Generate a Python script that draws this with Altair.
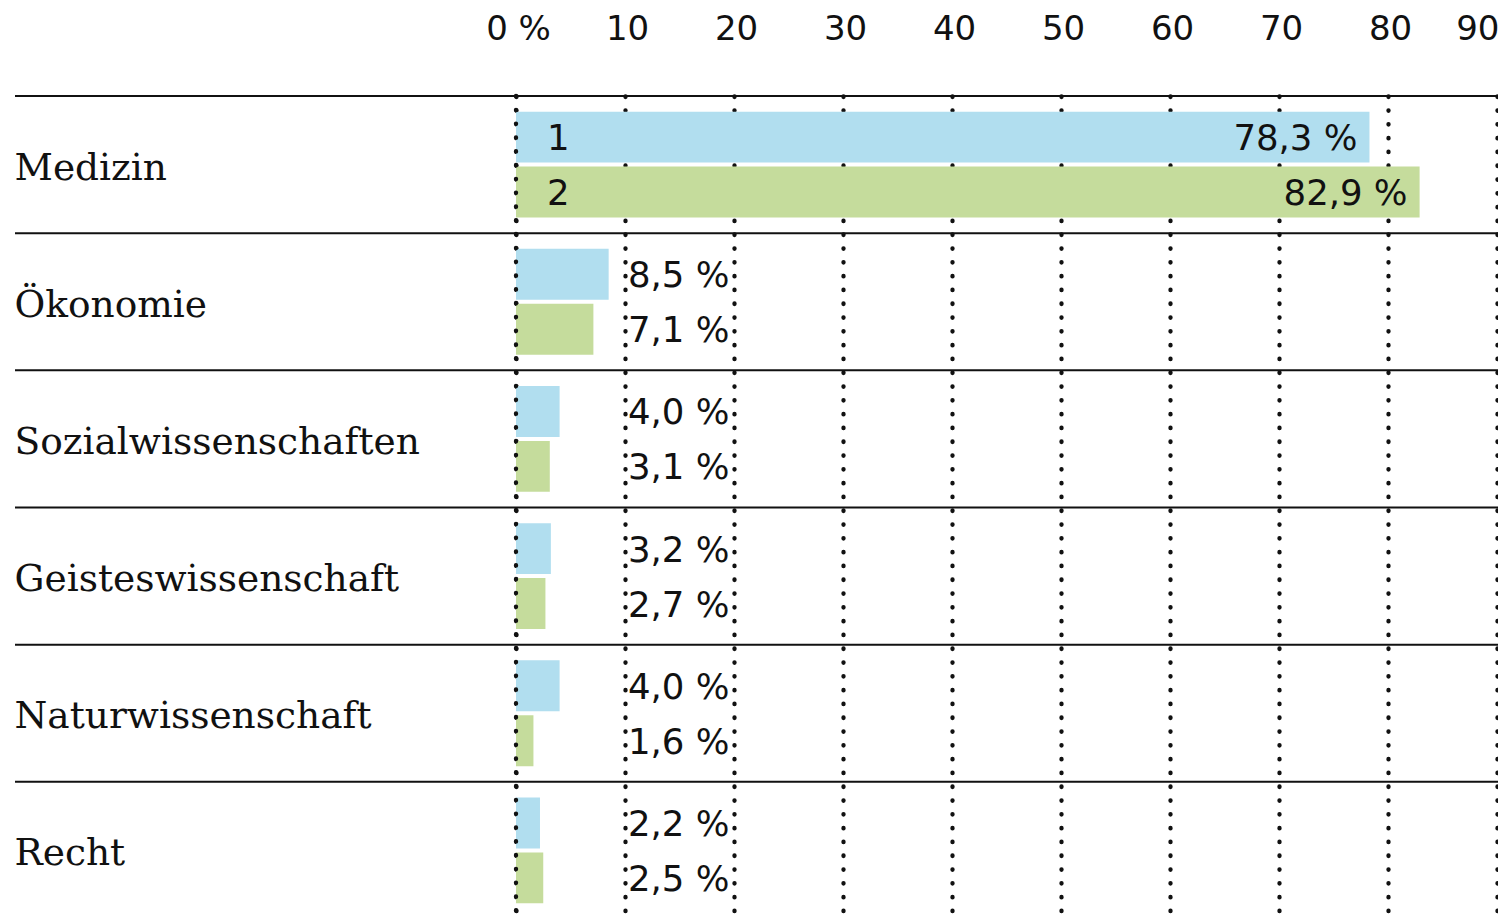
import altair as alt
import pandas as pd

categories = ["Medizin", "Ökonomie", "Sozialwissenschaften", "Geisteswissenschaft", "Naturwissenschaft", "Recht"]
series_names = ["1", "2"]
series1 = [78.3, 8.5, 4.0, 3.2, 4.0, 2.2]
series2 = [82.9, 7.1, 3.1, 2.7, 1.6, 2.5]
x_ticks = [0, 10, 20, 30, 40, 50, 60, 70, 80, 90]

BLUE = "#b1deef"
GREEN = "#c5dc9c"
INK = "#111111"

rows = []
for c, a, b in zip(categories, series1, series2):
    for s, v in zip(series_names, (a, b)):
        rows.append({"category": c, "series": s, "value": v,
                     "label": f"{v:.1f}".replace(".", ",") + " %"})
df = pd.DataFrame(rows)
sep_df = pd.DataFrame({"category": categories})
zero_df = pd.DataFrame({"value": [0]})

DOT_W = 4.3
DOT_DASH = [0.5, 13.3]
DOT = dict(strokeDash=DOT_DASH, strokeCap="round", strokeWidth=DOT_W, color=INK)

x_scale = alt.Scale(domain=[0, 90], nice=False, zero=True)
y_scale = alt.Scale(domain=categories, paddingInner=0, paddingOuter=0)
yoff_scale = alt.Scale(domain=series_names, paddingInner=0.073, paddingOuter=0.285)

x_axis = alt.Axis(
    orient="top", values=x_ticks, title=None, domain=False, ticks=False, tickSize=0,
    labelExpr="datum.value == 0 ? '0 %' : datum.label",
    labelFont="DejaVu Sans", labelFontSize=34, labelColor=INK,
    labelBaseline="alphabetic", labelPadding=57, labelOffset=2,
    labelAlign={"condition": {"test": "datum.value == 90", "value": "right"}, "value": "center"},
    grid=True, gridColor=INK, gridWidth=DOT_W, gridDash=DOT_DASH, gridCap="round", gridOpacity=1,
)
y_axis = alt.Axis(
    title=None, domain=False, ticks=False, tickSize=0, labelAlign="left", labelPadding=502,
    labelFont="DejaVu Serif", labelFontSize=37.5, labelColor=INK, labelLimit=700,
    labelBaseline="middle", labelOffset=4,
)

X = alt.X("value:Q", scale=x_scale, axis=x_axis)
Y = alt.Y("category:N", sort=categories, scale=y_scale, axis=y_axis)
YO = alt.YOffset("series:N", sort=series_names, scale=yoff_scale)

base = alt.Chart(df)

bars = base.mark_bar(cornerRadius=0).encode(
    x=X, y=Y, yOffset=YO,
    color=alt.Color("series:N", scale=alt.Scale(domain=series_names, range=[BLUE, GREEN]), legend=None),
)

zero_rule = alt.Chart(zero_df).mark_rule(**DOT).encode(x=X)

seps = alt.Chart(sep_df).mark_rule(color=INK, strokeWidth=2).encode(
    y=alt.Y("category:N", sort=categories, scale=y_scale, axis=y_axis, bandPosition=0),
    x=alt.value(-501),
    x2=alt.value(982),
)

text_common = dict(font="DejaVu Sans", fontSize=35.5, color=INK, baseline="middle", dy=2)

med_vals = base.transform_filter(alt.datum.category == "Medizin").mark_text(
    align="right", dx=-12, **text_common
).encode(x=X, y=Y, yOffset=YO, text="label:N")

med_series = base.transform_filter(alt.datum.category == "Medizin").mark_text(
    align="left", dx=31, **text_common
).encode(x=alt.datum(0, scale=x_scale), y=Y, yOffset=YO, text="series:N")

other_vals = base.transform_filter(alt.datum.category != "Medizin").mark_text(
    align="left", dx=3, **text_common
).encode(x=alt.datum(10, scale=x_scale), y=Y, yOffset=YO, text="label:N")

chart = alt.layer(bars, zero_rule, seps, med_vals, med_series, other_vals).properties(
    width=981, height=823,
    padding={"left": 508, "top": 88, "right": 1, "bottom": 0},
    autosize=alt.AutoSizeParams(type="none"),
    background="white",
).configure_view(stroke=None)

chart.save("out.html", embed_options={"renderer": "svg", "actions": False})
